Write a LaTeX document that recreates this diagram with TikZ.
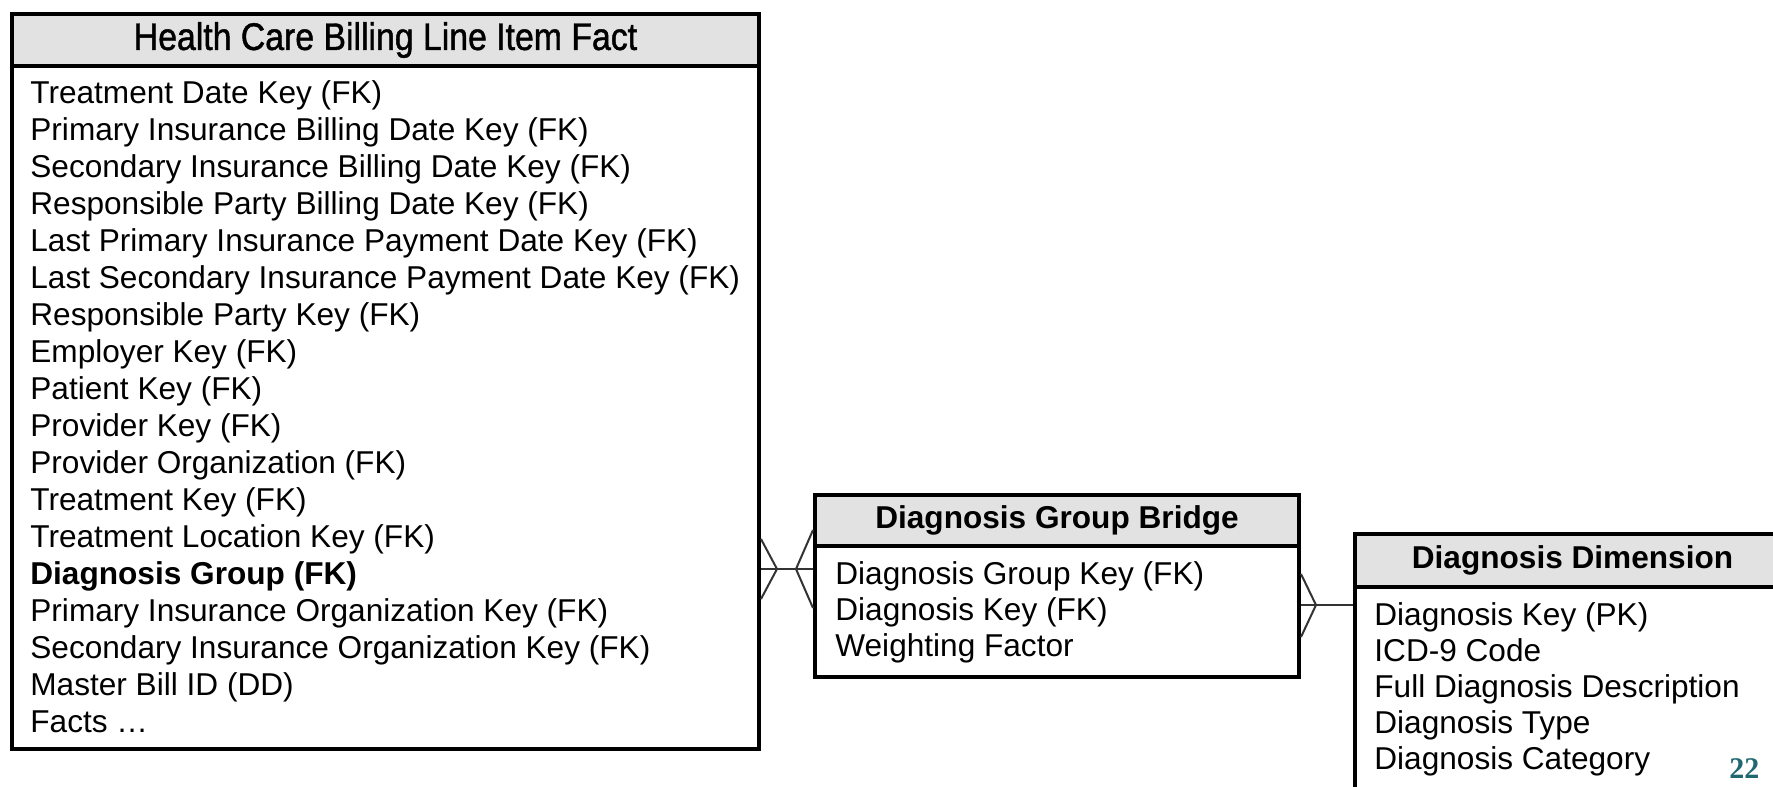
\documentclass[tikz,border=0pt]{standalone}
\usepackage{fontspec}
\setmainfont{Liberation Sans}
\newfontfamily\pagefont{Liberation Serif}
\newfontfamily\headfont[FakeStretch=0.88,FakeBold=1.2]{Liberation Sans}
\usetikzlibrary{positioning}
\definecolor{headgray}{RGB}{226,226,226}
\definecolor{pageteal}{RGB}{31,104,112}

\begin{document}
\begin{tikzpicture}[x=0.5pt, y=-0.5pt,
  box/.style={draw, line width=2pt, anchor=north west, inner sep=0pt},
  head/.style={box, fill=headgray, font=\fontsize{15.8}{18}\selectfont\bfseries},
  row/.style={anchor=base west, inner sep=0pt, font=\fontsize{15.8}{18}\selectfont},
  link/.style={line width=1pt, black!80}
  ]
  \useasboundingbox (0,0) rectangle (1773,787);
  \clip (0,0) rectangle (1773,787);

  % fact table
  \node[box, minimum width=373.5pt, minimum height=341.5pt] (factBody) at (10,64) {};
  \node[head, minimum width=373.5pt, minimum height=26pt, font=\headfont\fontsize{19.2}{20}\selectfont] (factHead) at (10,12) {Health Care Billing Line Item Fact};
  \foreach \txt [count=\i from 0] in {Treatment Date Key (FK), Primary Insurance Billing Date Key (FK),
      Secondary Insurance Billing Date Key (FK), Responsible Party Billing Date Key (FK),
      Last Primary Insurance Payment Date Key (FK), Last Secondary Insurance Payment Date Key (FK),
      Responsible Party Key (FK), Employer Key (FK), Patient Key (FK), Provider Key (FK),
      Provider Organization (FK), Treatment Key (FK), Treatment Location Key (FK),
      {\bfseries Diagnosis Group (FK)}, Primary Insurance Organization Key (FK),
      Secondary Insurance Organization Key (FK), Master Bill ID (DD), Facts …}
    \node[row] (fact\i) at (30, {103+37*\i}) {\txt};

  % bridge table
  \node[box, minimum width=242pt, minimum height=65.5pt] (bridgeBody) at (813,544) {};
  \node[head, minimum width=242pt, minimum height=25.5pt] (bridgeHead) at (813,493) {Diagnosis Group Bridge};
  \foreach \txt [count=\i from 0] in {Diagnosis Group Key (FK), Diagnosis Key (FK), Weighting Factor}
    \node[row] (bridge\i) at (835, {584+36.3*\i}) {\txt};

  % dimension table
  \node[box, minimum width=217.5pt, minimum height=107.5pt] (dimBody) at (1353,585) {};
  \node[head, minimum width=217.5pt, minimum height=26.5pt] (dimHead) at (1353,532) {Diagnosis Dimension};
  \foreach \txt [count=\i from 0] in {Diagnosis Key (PK), ICD-9 Code, Full Diagnosis Description,
      Diagnosis Type, Diagnosis Category}
    \node[row] (dim\i) at (1374, {625+36.2*\i}) {\txt};

  \node[anchor=base west, inner sep=0pt, text=pageteal, font=\pagefont\bfseries\fontsize{15}{15}\selectfont] (pageNo) at (1729,778) {22};

  % links
  \coordinate (j1) at (785,569);
  \coordinate (j2) at (1325,605);
  \draw[link] (factBody.east |- j1) -- (bridgeBody.west |- j1);
  \draw[link] (factBody.east |- j1) ++(0,-30) -- ++(16,30) -- ++(-16,30);
  \draw[link] (bridgeBody.west |- j1) ++(0,-39) -- ++(-17,39) -- ++(17,39);
  \draw[link] (bridgeBody.east |- j2) -- (dimBody.west |- j2);
  \draw[link] (bridgeBody.east |- j2) ++(0,-31) -- ++(15,31) -- ++(-15,32);
\end{tikzpicture}
\end{document}
